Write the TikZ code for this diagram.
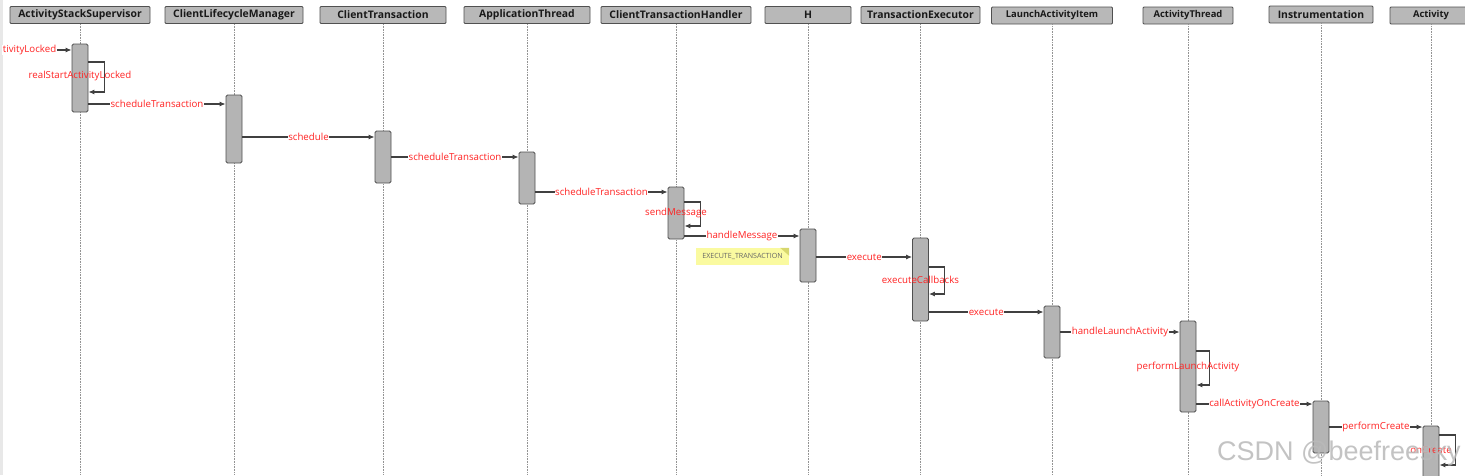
\documentclass[tikz,border=0pt]{standalone}
\usepackage{fontspec}
\setmainfont{Open Sans}
\setsansfont{Liberation Sans}
\usepackage{tikz}
\usetikzlibrary{arrows.meta,positioning,calc}
\definecolor{hdrgray}{RGB}{184,184,184}
\definecolor{boxgray}{RGB}{180,180,180}
\definecolor{edgegray}{RGB}{80,80,80}
\definecolor{msgred}{RGB}{255,35,35}
\definecolor{noteyellow}{RGB}{250,250,160}
\definecolor{notefold}{RGB}{215,215,110}

\begin{document}
\begin{tikzpicture}[x=1pt, y=-1pt,
    hdr/.style={rectangle, draw=edgegray, thick, fill=hdrgray, rounded corners=1pt,
                minimum height=17pt, inner sep=0pt, text=black!90,
                font=\fontsize{10.4}{11}\selectfont\bfseries},
    hdrsmall/.style={hdr, font=\fontsize{9.4}{11}\selectfont\bfseries},
    act/.style={rectangle, draw=edgegray, thick, fill=boxgray, rounded corners=1.5pt,
                minimum width=16pt, inner sep=0pt},
    life/.style={densely dotted, gray!85, line width=0.6pt},
    msg/.style={-{Latex[length=6pt,width=5pt]}, line width=1.1pt, black!75},
    lbl/.style={font=\fontsize{9.7}{11}\selectfont, text=msgred, fill=white, inner sep=0.6pt},
    selflbl/.style={font=\fontsize{9.7}{11}\selectfont, text=msgred, inner sep=0pt},
    note/.style={rectangle, fill=noteyellow, minimum width=93pt, minimum height=17pt,
                 inner sep=0pt, text=black!60, font=\fontsize{7.1}{8}\selectfont}]

    \useasboundingbox (0,0) rectangle (1465,475);
    \fill[gray!18] (0,0) rectangle (3,475);

    % Participants
    \node[hdr, minimum width=140pt]      (ass)   at (80,15)     {ActivityStackSupervisor};
    \node[hdr, minimum width=138pt]      (clm)   at (234,15)    {ClientLifecycleManager};
    \node[hdr, minimum width=126pt]      (ct)    at (383,15)    {ClientTransaction};
    \node[hdr, minimum width=126pt]      (at)    at (527,15)    {ApplicationThread};
    \node[hdr, minimum width=150pt]      (cth)   at (676,15)    {ClientTransactionHandler};
    \node[hdr, minimum width=86pt]       (h)     at (808,15)    {H};
    \node[hdr, minimum width=119pt]      (te)    at (920.5,15)  {TransactionExecutor};
    \node[hdrsmall, minimum width=121pt] (lai)   at (1052,15.5) {LaunchActivityItem};
    \node[hdrsmall, minimum width=90pt]  (athr)  at (1188,15.5) {ActivityThread};
    \node[hdr, minimum width=104pt]      (instr) at (1321,14.5) {Instrumentation};
    \node[hdrsmall, minimum width=82pt]  (actv)  at (1431,15.5) {Activity};

    % Lifelines
    \foreach \p in {ass,clm,ct,at,cth,h,te,lai,athr,instr,actv}
        \draw[life] (\p.south) -- (\p.south |- 0,475);

    % Activations
    \node[act, minimum height=68pt] (a1)  at (ass |- 0,78)     {};
    \node[act, minimum height=68pt] (a2)  at (clm |- 0,129)    {};
    \node[act, minimum height=52pt] (a3)  at (ct |- 0,157)     {};
    \node[act, minimum height=52pt] (a4)  at (at |- 0,178)     {};
    \node[act, minimum height=52pt] (a5)  at (cth |- 0,213)    {};
    \node[act, minimum height=53pt] (a6)  at (h |- 0,255.5)    {};
    \node[act, minimum height=83pt] (a7)  at (te |- 0,279.5)   {};
    \node[act, minimum height=52pt] (a8)  at (lai |- 0,332)    {};
    \node[act, minimum height=91pt] (a9)  at (athr |- 0,366.5) {};
    \node[act, minimum height=52pt] (a10) at (instr |- 0,427)  {};
    \node[act, minimum height=64pt] (a11) at (actv |- 0,458)   {};

    % Messages
    \node[lbl, anchor=east] (in) at (57,50) {tivityLocked};
    \draw[msg] (in.east) -- (a1.west |- in);

    \draw[msg] (a1.east |- 0,62) -- ++(16,0) |- (a1.east |- 0,92);
    \node[selflbl] (s1) at (a1 |- 0,76) {realStartActivityLocked};

    \draw[msg] (a1.east |- 0,104) -- node[lbl]{scheduleTransaction} (a2.west |- 0,104);
    \draw[msg] (a2.east |- 0,137) -- node[lbl]{schedule} (a3.west |- 0,137);
    \draw[msg] (a3.east |- 0,157) -- node[lbl]{scheduleTransaction} (a4.west |- 0,157);
    \draw[msg] (a4.east |- 0,192) -- node[lbl]{scheduleTransaction} (a5.west |- 0,192);

    \draw[msg] (a5.east |- 0,202) -- ++(16,0) |- (a5.east |- 0,226);
    \node[selflbl] (s2) at (a5 |- 0,213) {sendMessage};

    \draw[msg] (a5.east |- 0,236) -- node[lbl]{handleMessage} (a6.west |- 0,236);

    % Note
    \node[note] (n1) at (742.5,256.5) {EXECUTE\_TRANSACTION};
    \fill[notefold] (n1.north east) ++(-9,0) -- (n1.north east) -- ++(0,8) -- cycle;

    \draw[msg] (a6.east |- 0,257) -- node[lbl]{execute} (a7.west |- 0,257);

    \draw[msg] (a7.east |- 0,267) -- ++(16,0) |- (a7.east |- 0,294);
    \node[selflbl] (s3) at (a7 |- 0,280) {executeCallbacks};

    \draw[msg] (a7.east |- 0,312) -- node[lbl]{execute} (a8.west |- 0,312);
    \draw[msg] (a8.east |- 0,332) -- node[lbl]{handleLaunchActivity} (a9.west |- 0,332);

    \draw[msg] (a9.east |- 0,351) -- ++(13,0) |- (a9.east |- 0,385);
    \node[selflbl] (s4) at (a9 |- 0,367) {performLaunchActivity};

    \draw[msg] (a9.east |- 0,404) -- node[lbl]{callActivityOnCreate} (a10.west |- 0,404);
    \draw[msg] (a10.east |- 0,427) -- node[lbl]{performCreate} (a11.west |- 0,427);

    \draw[msg] (a11.east |- 0,435) -- ++(16,0) |- (a11.east |- 0,465);
    \node[selflbl] (s5) at (a11 |- 0,450) {onCreate};

    % Watermark
    \node[anchor=base west, inner sep=0pt, text=gray!55, opacity=0.85,
          font=\sffamily\fontsize{27}{29}\selectfont] (wm) at (1217,460) {CSDN @beefreesky};
\end{tikzpicture}
\end{document}
